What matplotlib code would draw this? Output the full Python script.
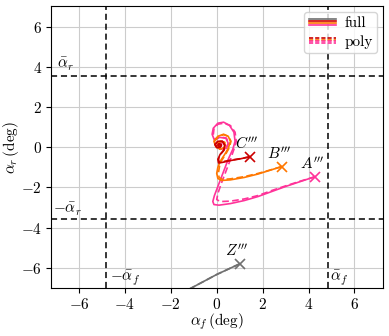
import matplotlib
matplotlib.use("Agg")
import matplotlib.pyplot as plt
from matplotlib.lines import Line2D
from matplotlib.legend_handler import HandlerBase

plt.rcParams['font.family'] = 'serif'
plt.rcParams['font.serif'] = ['cmr10', 'DejaVu Serif']
plt.rcParams['mathtext.fontset'] = 'cm'
plt.rcParams['axes.formatter.use_mathtext'] = True
plt.rcParams['axes.unicode_minus'] = True

# ---- data (deg) ----
pink_full_x = [4.29, 3.6, 3.0, 2.4, 1.8, 1.2, 0.6, 0.1, -0.12, -0.17, -0.1, 0.1, 0.3, 0.5, 0.7, 0.8, 0.75, 0.55, 0.3, 0.05, -0.15, -0.2, -0.1, 0.1, 0.4, 0.5, 0.4, 0.15, 0.0, 0.05, 0.2, 0.2, 0.1]
pink_full_y = [-1.46, -1.72, -1.95, -2.2, -2.45, -2.65, -2.8, -2.88, -2.85, -2.7, -2.4, -1.8, -1.2, -0.6, -0.1, 0.3, 0.75, 1.1, 1.25, 1.2, 0.95, 0.65, 0.35, 0.5, 0.45, 0.2, -0.05, -0.1, 0.05, 0.2, 0.2, 0.05, 0.05]
pink_poly_x = [4.29, 3.6, 3.0, 2.4, 1.8, 1.2, 0.6, 0.15, 0.0, 0.05, 0.2, 0.4, 0.6, 0.75, 0.85, 0.8, 0.6, 0.3, 0.05, -0.12, -0.15, -0.05, 0.15, 0.42, 0.52, 0.42, 0.15, 0.02, 0.07, 0.2, 0.2, 0.1]
pink_poly_y = [-1.46, -1.7, -1.92, -2.15, -2.4, -2.57, -2.68, -2.7, -2.6, -2.3, -1.8, -1.2, -0.6, -0.1, 0.3, 0.75, 1.08, 1.2, 1.15, 0.92, 0.62, 0.38, 0.52, 0.46, 0.2, -0.04, -0.08, 0.06, 0.2, 0.2, 0.06, 0.05]

orange_full_x = [2.83, 2.3, 1.8, 1.2, 0.6, 0.2, 0.05, 0.0, 0.05, 0.15, 0.35, 0.5, 0.6, 0.5, 0.3, 0.05, -0.12, -0.05, 0.15, 0.35, 0.35, 0.15, 0.05, 0.12]
orange_full_y = [-0.96, -1.15, -1.33, -1.5, -1.62, -1.65, -1.55, -1.3, -1.0, -0.7, -0.35, -0.05, 0.3, 0.55, 0.65, 0.55, 0.3, 0.05, -0.1, 0.0, 0.25, 0.3, 0.15, 0.08]
orange_poly_x = [2.83, 2.3, 1.8, 1.2, 0.6, 0.25, 0.1, 0.08, 0.12, 0.22, 0.4, 0.55, 0.62, 0.52, 0.3, 0.07, -0.1, -0.03, 0.16, 0.35, 0.34, 0.15, 0.06, 0.12]
orange_poly_y = [-0.96, -1.14, -1.3, -1.46, -1.57, -1.6, -1.5, -1.25, -0.95, -0.65, -0.32, -0.02, 0.3, 0.54, 0.63, 0.53, 0.3, 0.06, -0.08, 0.01, 0.24, 0.29, 0.15, 0.08]

red_full_x = [1.45, 1.0, 0.6, 0.25, 0.08, 0.05, 0.15, 0.3, 0.35, 0.25, 0.05, -0.08, 0.0, 0.15, 0.2, 0.1, 0.05, 0.1]
red_full_y = [-0.47, -0.58, -0.66, -0.75, -0.78, -0.6, -0.35, -0.15, 0.1, 0.3, 0.3, 0.15, -0.02, 0.0, 0.12, 0.18, 0.1, 0.07]
red_poly_x = [1.45, 1.0, 0.6, 0.25, 0.1, 0.08, 0.18, 0.32, 0.36, 0.25, 0.05, -0.07, 0.01, 0.15, 0.2, 0.1, 0.05, 0.1]
red_poly_y = [-0.47, -0.57, -0.64, -0.72, -0.74, -0.57, -0.33, -0.14, 0.1, 0.29, 0.29, 0.14, -0.01, 0.01, 0.12, 0.17, 0.1, 0.07]

gray_x = [1.0, 0.0, -1.1, -1.4]
gray_y = [-5.8, -6.33, -7.0, -7.18]

markers_x = [4.29, 2.83, 1.45, 1.0]
markers_y = [-1.46, -0.96, -0.47, -5.8]
marker_labels = ["$A'''$", "$B'''$", "$C'''$", "$Z'''$"]

alpha_f_bar = 4.83
alpha_r_bar = 3.55

ticks = [-6, -4, -2, 0, 2, 4, 6]

# ---- style ----
PINK = '#ff3399'
ORANGE = '#ff7700'
RED = '#cc0000'
GRAY = '#707070'
colors = [PINK, ORANGE, RED, GRAY]
FS = 11

fig = plt.figure(figsize=(3.89, 3.36), dpi=100)
ax = fig.add_axes([0.131, 0.143, 0.854, 0.839])

ax.set_xlim(-7.22, 7.25)
ax.set_ylim(-7.0, 7.03)
ax.set_xticks(ticks)
ax.set_yticks(ticks)
ax.grid(True, color='#cccccc', lw=0.8)
ax.set_axisbelow(True)
ax.tick_params(labelsize=FS, length=3.5, pad=3)

lw = 1.2
ax.plot(gray_x, gray_y, color=GRAY, lw=lw)
ax.plot(gray_x, gray_y, color=GRAY, lw=lw, ls='--', dashes=(4, 2))
ax.plot(pink_full_x, pink_full_y, color=PINK, lw=lw)
ax.plot(pink_poly_x, pink_poly_y, color=PINK, lw=lw, ls='--', dashes=(4, 2))
ax.plot(orange_full_x, orange_full_y, color=ORANGE, lw=lw)
ax.plot(orange_poly_x, orange_poly_y, color=ORANGE, lw=lw, ls='--', dashes=(4, 2))
ax.plot(red_full_x, red_full_y, color=RED, lw=lw)
ax.plot(red_poly_x, red_poly_y, color=RED, lw=lw, ls='--', dashes=(4, 2))

for mx, my, lab, c in zip(markers_x, markers_y, marker_labels, colors):
    ax.plot([mx], [my], marker='x', color=c, ms=7, mew=1.2, ls='none')
    ax.text(mx - 0.12, my + 0.22, lab, ha='center', va='bottom', fontsize=FS)

dash_kw = dict(color='black', lw=1.1, ls='--', dashes=(4, 2.5))
ax.axvline(-alpha_f_bar, **dash_kw)
ax.axvline(alpha_f_bar, **dash_kw)
ax.axhline(-alpha_r_bar, **dash_kw)
ax.axhline(alpha_r_bar, **dash_kw)

ax.text(-6.95, alpha_r_bar + 0.15, r'$\bar{\alpha}_r$', fontsize=FS, va='bottom')
ax.text(-7.15, -alpha_r_bar + 0.05, r'$-\bar{\alpha}_r$', fontsize=FS, va='bottom')
ax.text(-alpha_f_bar + 0.2, -6.95, r'$-\bar{\alpha}_f$', fontsize=FS, va='bottom')
ax.text(alpha_f_bar + 0.1, -6.95, r'$\bar{\alpha}_f$', fontsize=FS, va='bottom')

ax.set_xlabel(r'$\alpha_f\,$(deg)', fontsize=FS, labelpad=0)
ax.set_ylabel(r'$\alpha_r\,$(deg)', fontsize=FS, labelpad=0)


class StackHandler(HandlerBase):
    def __init__(self, cols, ls):
        super().__init__()
        self.cols = cols
        self.ls = ls

    def create_artists(self, legend, orig_handle, xdescent, ydescent,
                       width, height, fontsize, trans):
        arts = []
        n = len(self.cols)
        for i, c in enumerate(self.cols):
            y = height * (0.75 - 0.5 * i / (n - 1)) - ydescent
            l = Line2D([-xdescent, width - xdescent], [y, y], color=c, lw=1.2,
                       ls=self.ls, transform=trans)
            if self.ls == '--':
                l.set_dashes((2.5, 1.2))
            arts.append(l)
        return arts


h_full = Line2D([], [], color=GRAY)
h_poly = Line2D([], [], color=RED, ls='--')
leg = ax.legend([h_full, h_poly], ['full', 'poly'], loc='upper right',
                handler_map={h_full: StackHandler([GRAY, RED, ORANGE, PINK], '-'),
                             h_poly: StackHandler([RED, ORANGE, PINK, PINK], '--')},
                fontsize=FS, handlelength=1.8, handletextpad=0.5,
                borderpad=0.3, labelspacing=0.3, borderaxespad=0.4,
                framealpha=0.8)

fig.savefig('out.png', dpi=100)
